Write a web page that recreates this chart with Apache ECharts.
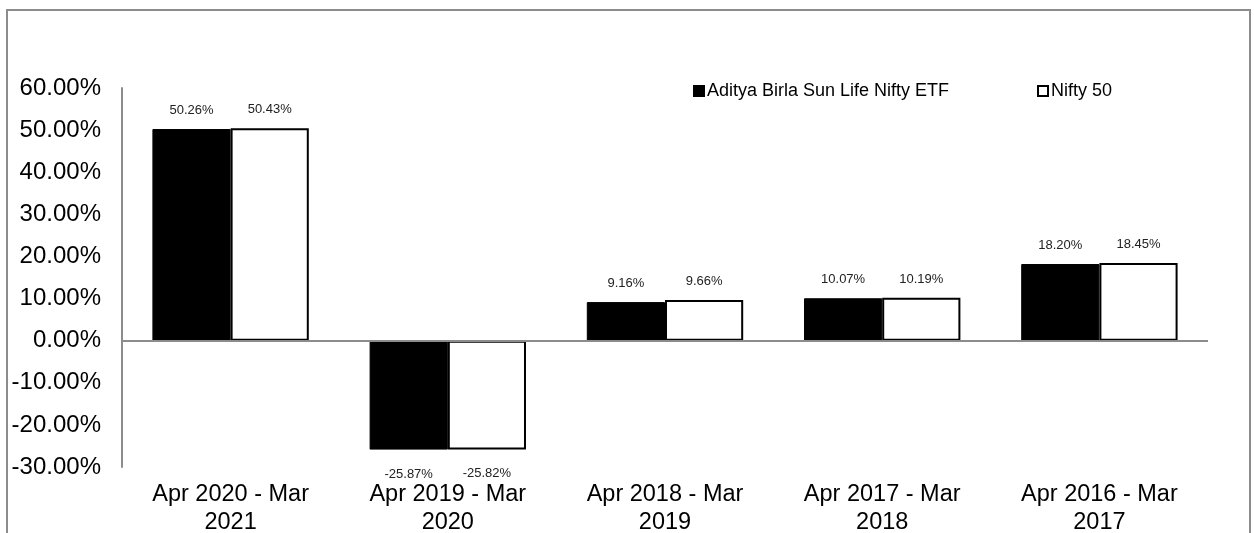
<!DOCTYPE html>
<html>
<head>
<meta charset="utf-8">
<style>
  html, body { margin: 0; padding: 0; background: #fff; }
  #chart { width: 1254px; height: 533px; }
</style>
<script src="https://cdn.jsdelivr.net/npm/echarts@6/dist/echarts.min.js"></script>
</head>
<body>
<div id="chart"></div>
<script>
// data
var categories = ['Apr 2020 - Mar 2021', 'Apr 2019 - Mar 2020', 'Apr 2018 - Mar 2019', 'Apr 2017 - Mar 2018', 'Apr 2016 - Mar 2017'];
var etfValues = [50.26, -25.87, 9.16, 10.07, 18.20];
var niftyValues = [50.43, -25.82, 9.66, 10.19, 18.45];
var seriesNames = ['Aditya Birla Sun Life Nifty ETF', 'Nifty 50'];
var yTicks = { min: -30, max: 60, interval: 10 };

var chart = echarts.init(document.getElementById('chart'));
var font = 'Liberation Sans, Arial, sans-serif';

// negative values get the label under the bar
function toData(arr){
	return arr.map(function(v){
		return {
			value: v,
			label: { position: v < 0 ? 'bottom' : 'top', distance: v < 0 ? 18 : 12 }
		};
	});
}

var valueLabel = {
	show: true,
	fontFamily: font,
	fontSize: 13,
	color: '#222',
	formatter: function(p){ return p.value.toFixed(2) + '%'; }
};

var legendText = { fontFamily: font, fontSize: 18, color: '#000', padding: [0, 0, 0, -2] };

var option = {
	animation: false,
	backgroundColor: '#fff',
	graphic: [{
		type: 'rect',
		shape: { x: 7, y: 10, width: 1243, height: 600 },
		style: { fill: 'none', stroke: '#8c8c8c', lineWidth: 2 },
		silent: true
	}],
	legend: [{
		data: [{ name: seriesNames[0], icon: 'rect' }],
		left: 693, top: 82, padding: 0,
		itemWidth: 10, itemHeight: 10, itemGap: 4,
		textStyle: legendText
	}, {
		data: [{ name: seriesNames[1], icon: 'rect' }],
		left: 1037, top: 82, padding: 0,
		itemWidth: 10, itemHeight: 10, itemGap: 4,
		textStyle: legendText
	}],
	grid: { left: 122, right: 46, top: 88, bottom: 66, outerBoundsMode: 'none', containLabel: false },
	xAxis: {
		type: 'category',
		data: categories,
		axisLine: { show: false, onZero: false },
		axisTick: { show: false },
		axisLabel: {
			fontFamily: font, fontSize: 23.5, color: '#000', margin: 14, lineHeight: 28,
			interval: 0,
			formatter: function(v){ return v.replace(' - Mar ', ' - Mar\n'); }
		}
	},
	yAxis: {
		type: 'value',
		min: yTicks.min, max: yTicks.max, interval: yTicks.interval,
		axisLine: { show: true, lineStyle: { color: '#8c8c8c', width: 2 } },
		axisTick: { show: false },
		splitLine: { show: false },
		axisLabel: {
			fontFamily: font, fontSize: 24, color: '#000', margin: 21,
			formatter: function(v){ return v.toFixed(2) + '%'; }
		}
	},
	series: [{
		name: seriesNames[0],
		type: 'bar',
		data: toData(etfValues),
		barWidth: '36%',
		barGap: '0%',
		itemStyle: { color: '#000', borderColor: '#000', borderWidth: 1 },
		label: valueLabel,
		markLine: {
			silent: true,
			symbol: 'none',
			label: { show: false },
			lineStyle: { color: '#8c8c8c', width: 2, type: 'solid' },
			data: [{ yAxis: 0 }]
		}
	}, {
		name: seriesNames[1],
		type: 'bar',
		data: toData(niftyValues),
		barWidth: '36%',
		barGap: '0%',
		itemStyle: { color: '#fff', borderColor: '#000', borderWidth: 2 },
		label: valueLabel
	}]
};

chart.setOption(option);
</script>
</body>
</html>
